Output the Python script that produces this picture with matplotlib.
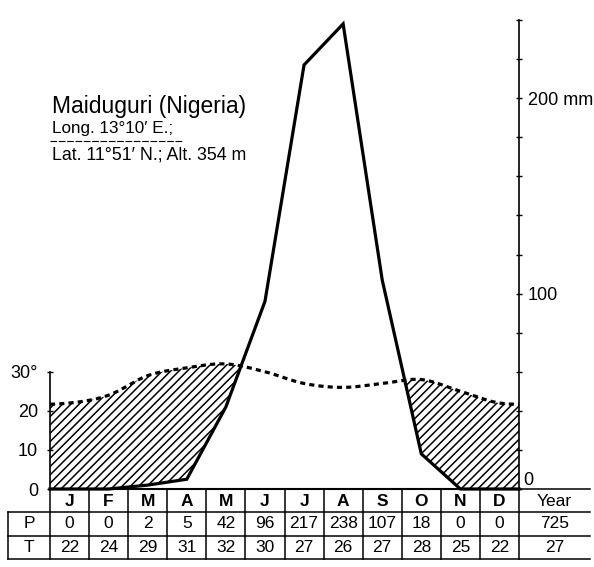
import numpy as np
import matplotlib
matplotlib.use("Agg")
import matplotlib.pyplot as plt

plt.rcParams['font.family'] = ['Liberation Sans', 'DejaVu Sans']
plt.rcParams['hatch.linewidth'] = 1.1

# ---- data ----
months = ["J", "F", "M", "A", "M", "J", "J", "A", "S", "O", "N", "D"]
precip = [0, 0, 2, 5, 42, 96, 217, 238, 107, 18, 0, 0]      # mm
temp = [22, 24, 29, 31, 32, 30, 27, 26, 27, 28, 25, 22]     # deg C
year_precip = 725
year_temp = 27
title = "Maiduguri (Nigeria)"
subtitle1 = "Long. 13°10′ E.;"
subtitle2 = "Lat. 11°51′ N.; Alt. 354 m"

W, H = 594, 567
fig = plt.figure(figsize=(W / 100, H / 100), dpi=100)

def fx(px):
    return px / W

def fy(py):
    return 1 - py / H

# main axes: x 0..12 months -> px 50..519 ; y 0..240 mm -> px 489..20
x0, x1, ybot, ytop = 50, 519, 489, 20
ax = fig.add_axes([fx(x0), fy(ybot), (x1 - x0) / W, (ybot - ytop) / H])
ax.set_xlim(0, 12)
ax.set_ylim(0, 240)
ax.patch.set_alpha(0)

n = len(months)
centers = np.arange(n) + 0.5

# precipitation polyline, extended to the diagram edges
p_edge = (precip[-1] + precip[0]) / 2
px_ = np.concatenate([[0], centers, [12]])
py_ = np.concatenate([[p_edge], precip, [p_edge]])

# temperature smooth curve (Catmull-Rom, periodic), plotted at 10 C = 20 mm
t_mm = 2 * np.array(temp, dtype=float)
ext_x = np.concatenate([[centers[0] - 2, centers[0] - 1], centers, [centers[-1] + 1, centers[-1] + 2]])
ext_y = np.concatenate([[t_mm[-2], t_mm[-1]], t_mm, [t_mm[0], t_mm[1]]])
tx, ty = [], []
for i in range(1, len(ext_x) - 2):
    p0, p1, p2, p3 = ext_y[i - 1], ext_y[i], ext_y[i + 1], ext_y[i + 2]
    u = np.linspace(0, 1, 40, endpoint=False)
    yy = 0.5 * ((2 * p1) + (-p0 + p2) * u + (2 * p0 - 5 * p1 + 4 * p2 - p3) * u ** 2
                + (-p0 + 3 * p1 - 3 * p2 + p3) * u ** 3)
    xx = ext_x[i] + u * (ext_x[i + 1] - ext_x[i])
    tx.append(xx)
    ty.append(yy)
tx = np.concatenate(tx)
ty = np.concatenate(ty)
mask = (tx >= 0) & (tx <= 12)
tx, ty = tx[mask], ty[mask]
tx = np.concatenate([[0], tx, [12]])
ty = np.concatenate([[0.0], ty, [0.0]])
ty[0] = np.interp(0, tx[1:], ty[1:])
ty[-1] = np.interp(12, tx[:-1], ty[:-1])

# arid period hatch
xf = np.linspace(0, 12, 1200)
tf = np.interp(xf, tx, ty)
pf = np.interp(xf, px_, py_)
ax.fill_between(xf, pf, tf, where=tf > pf, interpolate=True, facecolor='none',
                edgecolor='black', hatch='////', linewidth=0)

ax.plot(tx, ty, color='black', lw=2.3, linestyle=(0, (1.6, 1.3)), solid_capstyle='butt')
ax.plot(px_, py_, color='black', lw=2.3, solid_joinstyle='miter', clip_on=False)
ax.axhline(0, color='black', lw=1.5, clip_on=False)

for s in ['top', 'bottom', 'right']:
    ax.spines[s].set_visible(False)
ax.spines['left'].set_bounds(0, 60)
ax.spines['left'].set_linewidth(1.2)
ax.set_xticks([])
ax.set_yticks([0, 20, 40, 60])
ax.set_yticklabels(['0', '10', '20', '30°'], fontsize=13)
ax.tick_params(axis='y', direction='inout', length=5, width=1, pad=6)

# right precipitation axis
ax2 = ax.twinx()
ax2.set_ylim(0, 240)
for s in ['top', 'bottom', 'left']:
    ax2.spines[s].set_visible(False)
ax2.spines['right'].set_bounds(0, 240)
ax2.spines['right'].set_linewidth(1.2)
rt = np.arange(0, 241, 20)
ax2.set_yticks(rt)
ax2.set_yticklabels(['100' if v == 100 else ('200 mm' if v == 200 else '') for v in rt], fontsize=13)
ax2.tick_params(axis='y', direction='inout', length=5, width=1, pad=4)
ax2.text(12, 0, ' 0', transform=ax2.transData, fontsize=13, ha='left', va='bottom')

# title texts
fig.text(fx(52), fy(113), title, fontsize=16.5, ha='left', va='baseline')
fig.text(fx(52), fy(133), subtitle1, fontsize=12.3, ha='left', va='baseline')
fig.text(fx(52), fy(160), subtitle2, fontsize=12.8, ha='left', va='baseline')
fig.add_artist(plt.Line2D([fx(50), fx(183)], [fy(141), fy(141)], color='black', lw=0.8,
                          linestyle=(0, (6, 1.5))))

# ---- table ----
tb = fig.add_axes([fx(x0), fy(559), (x1 - x0) / W, (559 - 489) / H])
tb.set_xlim(0, 12)
tb.set_ylim(0, 3)
tb.axis('off')
xl = -42 / ((x1 - x0) / 12)
xr = 12 + 71 / ((x1 - x0) / 12)
kw = dict(color='black', lw=1.1, clip_on=False)
for yv in [1, 2]:
    tb.plot([xl, xr], [yv, yv], **kw)
tb.plot([xl, xr], [0, 0], **kw)
tb.plot([12, xr], [3, 3], **kw)
tb.plot([xl, xl], [0, 2], **kw)
for i in range(n + 1):
    tb.plot([i, i], [0, 3], **kw)

tkw = dict(ha='center', va='center', fontsize=12.5, clip_on=False)
for i, m in enumerate(months):
    tb.text(centers[i], 2.45, m, fontweight='bold', **tkw)
    tb.text(centers[i], 1.5, str(precip[i]), **tkw)
    tb.text(centers[i], 0.5, str(temp[i]), **tkw)
ymid = (12 + xr) / 2
tb.text(ymid, 2.45, "Year", **tkw)
tb.text(ymid, 1.5, str(year_precip), **tkw)
tb.text(ymid, 0.5, str(year_temp), **tkw)
tb.text((xl + 0) / 2, 1.5, "P", **tkw)
tb.text((xl + 0) / 2, 0.5, "T", **tkw)

fig.savefig("out.png", dpi=100)
